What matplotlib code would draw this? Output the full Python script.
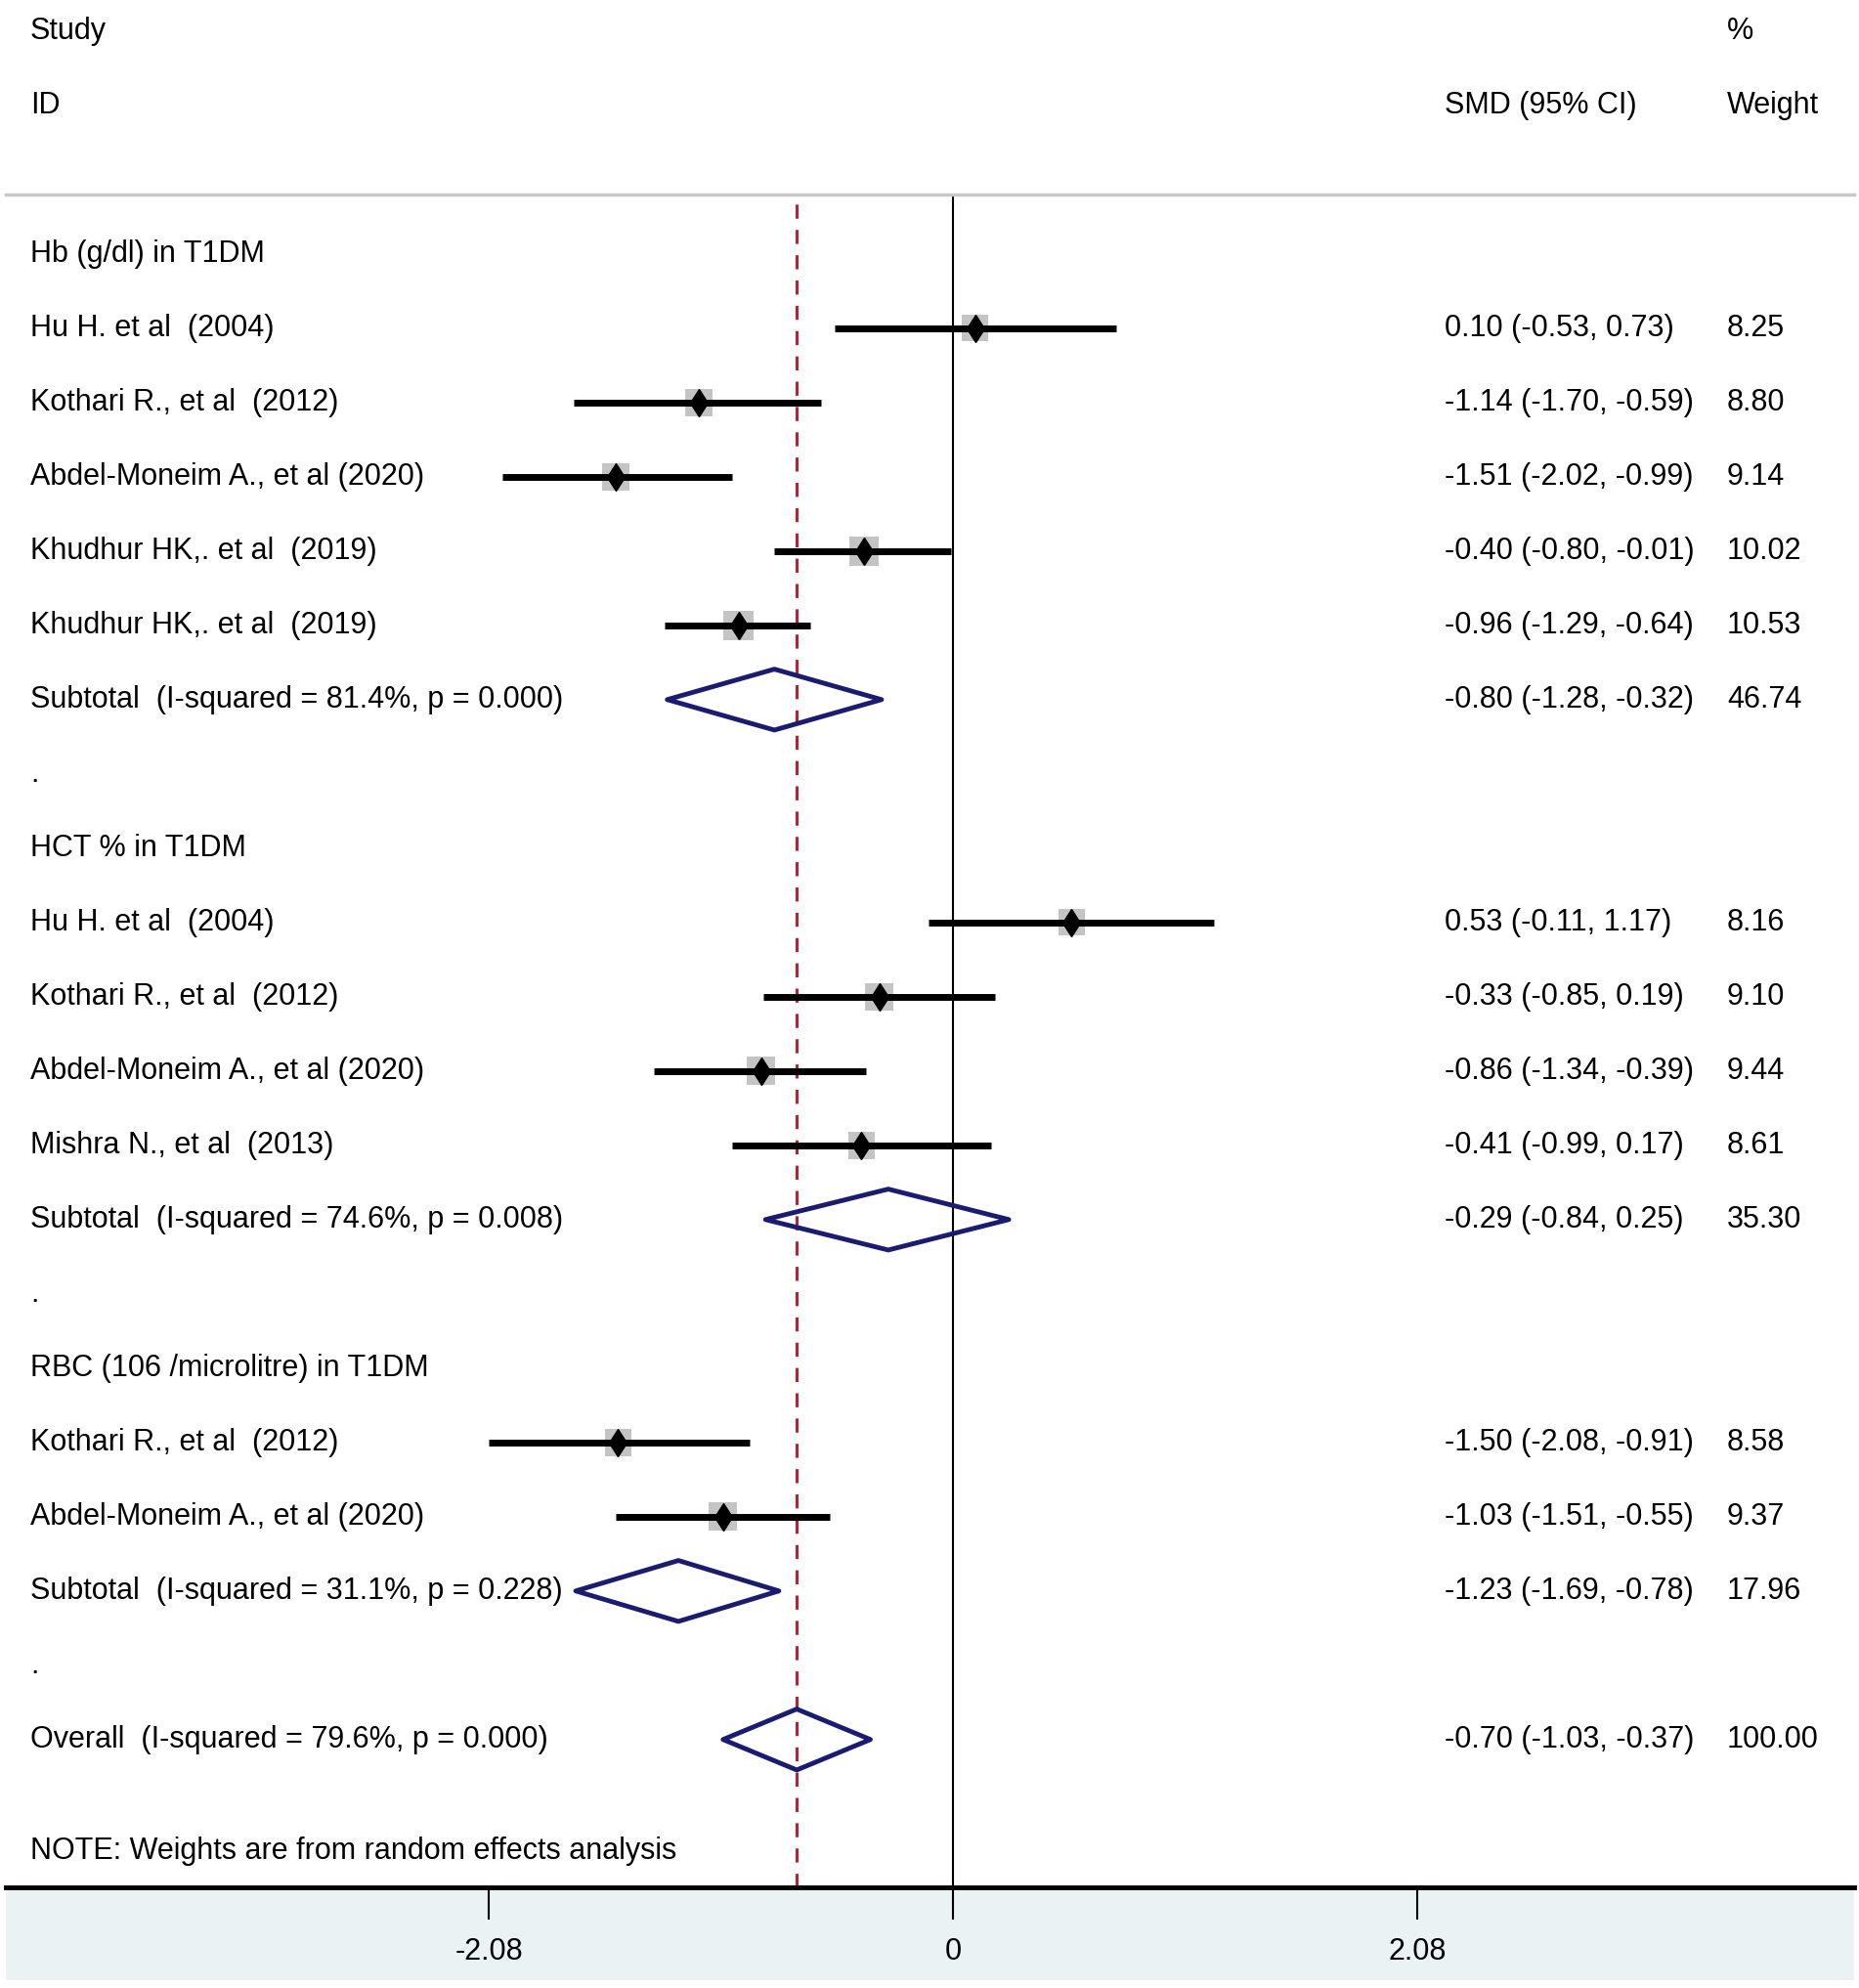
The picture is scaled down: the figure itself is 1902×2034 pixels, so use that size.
import matplotlib
matplotlib.use("Agg")
import matplotlib.pyplot as plt
from matplotlib.transforms import blended_transform_factory
from matplotlib.patches import Polygon, Rectangle
from matplotlib import font_manager

# ---------------- data ----------------
groups = ["Hb (g/dl) in T1DM", "HCT % in T1DM", "RBC (106 /microlitre) in T1DM"]
study_labels = [
    ["Hu H. et al  (2004)", "Kothari R., et al  (2012)", "Abdel-Moneim A., et al (2020)",
     "Khudhur HK,. et al  (2019)", "Khudhur HK,. et al  (2019)"],
    ["Hu H. et al  (2004)", "Kothari R., et al  (2012)", "Abdel-Moneim A., et al (2020)",
     "Mishra N., et al  (2013)"],
    ["Kothari R., et al  (2012)", "Abdel-Moneim A., et al (2020)"],
]
study_smd = [[0.10, -1.14, -1.51, -0.40, -0.96], [0.53, -0.33, -0.86, -0.41], [-1.50, -1.03]]
study_lo = [[-0.53, -1.70, -2.02, -0.80, -1.29], [-0.11, -0.85, -1.34, -0.99], [-2.08, -1.51]]
study_hi = [[0.73, -0.59, -0.99, -0.01, -0.64], [1.17, 0.19, -0.39, 0.17], [-0.91, -0.55]]
study_weight = [[8.25, 8.80, 9.14, 10.02, 10.53], [8.16, 9.10, 9.44, 8.61], [8.58, 9.37]]

sub_labels = ["Subtotal  (I-squared = 81.4%, p = 0.000)",
              "Subtotal  (I-squared = 74.6%, p = 0.008)",
              "Subtotal  (I-squared = 31.1%, p = 0.228)"]
sub_smd = [-0.80, -0.29, -1.23]
sub_lo = [-1.28, -0.84, -1.69]
sub_hi = [-0.32, 0.25, -0.78]
sub_weight = [46.74, 35.30, 17.96]

overall_label = "Overall  (I-squared = 79.6%, p = 0.000)"
overall_smd = -0.70
overall_lo = -1.03
overall_hi = -0.37
overall_weight = 100.00

note = "NOTE: Weights are from random effects analysis"
xticks = [-2.08, 0, 2.08]
xtick_labels = ["-2.08", "0", "2.08"]

# ---------------- style ----------------
names = {f.name for f in font_manager.fontManager.ttflist}
family = "Liberation Sans" if "Liberation Sans" in names else "DejaVu Sans"
plt.rcParams["font.family"] = [family, "DejaVu Sans"]
FS = 22
NAVY = "#1b1b6f"
RED = "#a02c3c"
BOX = "#c4c4c4"

W, H = 1902, 2034
fig = plt.figure(figsize=(W / 100, H / 100), dpi=100)
fig.patch.set_facecolor("white")

# light band below the axis
fig.patches.append(Rectangle((6 / W, (H - 2026) / H), 1891 / W, 95 / H,
                             transform=fig.transFigure, facecolor="#eaf2f3",
                             edgecolor="none", zorder=-1))

ax_left, ax_right, ax_top, ax_bot = 6, 1897, 199, 1931
ax = fig.add_axes([ax_left / W, (H - ax_bot) / H, (ax_right - ax_left) / W, (ax_bot - ax_top) / H])
ax.set_facecolor("white")
ax.set_xlim(-4.243, 4.037)
ax.set_ylim(21.99, -0.80)

for s in ["left", "right"]:
    ax.spines[s].set_visible(False)
ax.spines["top"].set_color("#c8c8c8")
ax.spines["top"].set_linewidth(2.5)
ax.spines["bottom"].set_color("black")
ax.spines["bottom"].set_linewidth(3.5)
ax.set_yticks([])
ax.set_xticks(xticks)
ax.set_xticklabels(xtick_labels, fontsize=FS)
ax.tick_params(axis="x", direction="out", length=24, width=1.5, pad=13, colors="black")

tr = blended_transform_factory(fig.transFigure, ax.transData)
X_LABEL = 31 / W
X_SMD = 1478 / W
X_WT = 1767 / W


def txt(x, y, s):
    ax.text(x, y, s, transform=tr, fontsize=FS, ha="left", va="center",
            color="black", clip_on=False)


# headers
txt(X_LABEL, -3.0, "Study")
txt(X_LABEL, -2.0, "ID")
txt(X_WT, -3.0, "%")
txt(X_SMD, -2.0, "SMD (95% CI)")
txt(X_WT, -2.0, "Weight")

# reference lines
ax.axvline(0, color="black", lw=1.5, zorder=1)
ax.axvline(overall_smd, color=RED, lw=2.3, linestyle=(0, (4.5, 3.6)), zorder=1.5)

HALF = 0.41


def diamond(lo, est, hi, y):
    poly = Polygon([[lo, y], [est, y - HALF], [hi, y], [est, y + HALF]], closed=True,
                   fill=False, edgecolor=NAVY, lw=3.5, joinstyle="round", zorder=3)
    ax.add_patch(poly)


row = 0
for g in range(len(groups)):
    txt(X_LABEL, row, groups[g])
    row += 1
    for i in range(len(study_labels[g])):
        est, lo, hi, w = study_smd[g][i], study_lo[g][i], study_hi[g][i], study_weight[g][i]
        ax.scatter([est], [row], marker="s", s=46 * w, color=BOX, edgecolors="none", zorder=2)
        ax.plot([lo, hi], [row, row], color="black", lw=5, solid_capstyle="butt", zorder=2.5)
        ax.plot([est], [row], marker="d", ms=14.5, color="black", mec="black", zorder=3)
        txt(X_LABEL, row, study_labels[g][i])
        txt(X_SMD, row, "%.2f (%.2f, %.2f)" % (est, lo, hi))
        txt(X_WT, row, "%.2f" % w)
        row += 1
    diamond(sub_lo[g], sub_smd[g], sub_hi[g], row)
    txt(X_LABEL, row, sub_labels[g])
    txt(X_SMD, row, "%.2f (%.2f, %.2f)" % (sub_smd[g], sub_lo[g], sub_hi[g]))
    txt(X_WT, row, "%.2f" % sub_weight[g])
    row += 1
    txt(X_LABEL, row, ".")
    row += 1

diamond(overall_lo, overall_smd, overall_hi, row)
txt(X_LABEL, row, overall_label)
txt(X_SMD, row, "%.2f (%.2f, %.2f)" % (overall_smd, overall_lo, overall_hi))
txt(X_WT, row, "%.2f" % overall_weight)
txt(X_LABEL, row + 1.5, note)

fig.savefig("out.png", dpi=100, facecolor="white")
